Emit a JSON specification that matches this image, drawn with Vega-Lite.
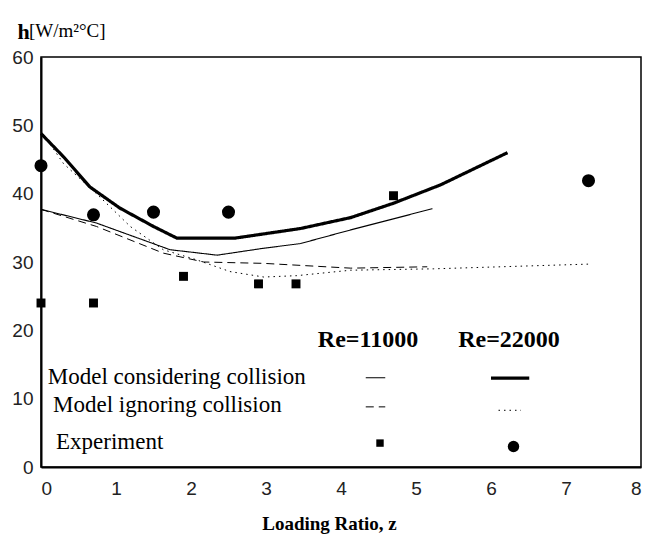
{
  "$schema": "https://vega.github.io/schema/vega-lite/v6.json",
  "width": 600,
  "height": 410,
  "autosize": "none",
  "padding": {"left": 41, "top": 57, "right": 4, "bottom": 69},
  "background": "white",
  "title": {"text": "[W/m²°C]", "anchor": "start", "frame": "group", "dx": -12, "offset": -36, "baseline": "alphabetic", "font": "Liberation Serif", "fontSize": 19, "fontWeight": "normal", "color": "black"},
  "config": {
    "view": {"stroke": "black", "strokeWidth": 1.5},
    "axis": {"grid": false, "ticks": false, "domainColor": "black", "domainWidth": 2, "labelFont": "Liberation Sans", "labelFontSize": 19, "labelColor": "#222"}
  },
  "datasets": {
    "curves": [
      {"series": "Considering collision, Re=22000", "z": 0, "h": 48.8},
      {"series": "Considering collision, Re=22000", "z": 0.30, "h": 45.4},
      {"series": "Considering collision, Re=22000", "z": 0.65, "h": 41.0},
      {"series": "Considering collision, Re=22000", "z": 1.05, "h": 37.9},
      {"series": "Considering collision, Re=22000", "z": 1.50, "h": 35.2},
      {"series": "Considering collision, Re=22000", "z": 1.81, "h": 33.5},
      {"series": "Considering collision, Re=22000", "z": 2.59, "h": 33.5},
      {"series": "Considering collision, Re=22000", "z": 3.46, "h": 34.9},
      {"series": "Considering collision, Re=22000", "z": 4.13, "h": 36.5},
      {"series": "Considering collision, Re=22000", "z": 4.70, "h": 38.6},
      {"series": "Considering collision, Re=22000", "z": 5.33, "h": 41.3},
      {"series": "Considering collision, Re=22000", "z": 6.22, "h": 46.0},
      {"series": "Considering collision, Re=11000", "z": 0, "h": 37.7},
      {"series": "Considering collision, Re=11000", "z": 0.74, "h": 35.7},
      {"series": "Considering collision, Re=11000", "z": 1.72, "h": 31.8},
      {"series": "Considering collision, Re=11000", "z": 2.35, "h": 31.0},
      {"series": "Considering collision, Re=11000", "z": 2.96, "h": 32.0},
      {"series": "Considering collision, Re=11000", "z": 3.46, "h": 32.7},
      {"series": "Considering collision, Re=11000", "z": 4.13, "h": 34.7},
      {"series": "Considering collision, Re=11000", "z": 5.22, "h": 37.8},
      {"series": "Ignoring collision, Re=11000", "z": 0, "h": 37.7},
      {"series": "Ignoring collision, Re=11000", "z": 0.74, "h": 35.2},
      {"series": "Ignoring collision, Re=11000", "z": 1.63, "h": 31.3},
      {"series": "Ignoring collision, Re=11000", "z": 2.17, "h": 30.0},
      {"series": "Ignoring collision, Re=11000", "z": 2.97, "h": 29.8},
      {"series": "Ignoring collision, Re=11000", "z": 4.13, "h": 29.1},
      {"series": "Ignoring collision, Re=11000", "z": 5.15, "h": 29.3},
      {"series": "Ignoring collision, Re=22000", "z": 0, "h": 49.2},
      {"series": "Ignoring collision, Re=22000", "z": 0.30, "h": 44.4},
      {"series": "Ignoring collision, Re=22000", "z": 0.74, "h": 40.0},
      {"series": "Ignoring collision, Re=22000", "z": 1.19, "h": 35.2},
      {"series": "Ignoring collision, Re=22000", "z": 1.63, "h": 31.8},
      {"series": "Ignoring collision, Re=22000", "z": 2.08, "h": 30.3},
      {"series": "Ignoring collision, Re=22000", "z": 2.52, "h": 28.6},
      {"series": "Ignoring collision, Re=22000", "z": 2.97, "h": 27.8},
      {"series": "Ignoring collision, Re=22000", "z": 3.41, "h": 28.0},
      {"series": "Ignoring collision, Re=22000", "z": 4.13, "h": 28.8},
      {"series": "Ignoring collision, Re=22000", "z": 5.23, "h": 29.0},
      {"series": "Ignoring collision, Re=22000", "z": 7.33, "h": 29.7}
    ],
    "exp11000": [
      {"z": 0, "h": 24}, {"z": 0.7, "h": 24}, {"z": 1.9, "h": 27.9},
      {"z": 2.9, "h": 26.8}, {"z": 3.4, "h": 26.8}, {"z": 4.7, "h": 39.7}
    ],
    "exp22000": [
      {"z": 0, "h": 44.1}, {"z": 0.7, "h": 36.9}, {"z": 1.5, "h": 37.3},
      {"z": 2.5, "h": 37.3}, {"z": 7.3, "h": 41.9}
    ],
    "keyLines": [
      {"series": "Considering collision, Re=11000", "z": 4.33, "z2": 4.59, "h": 13.07},
      {"series": "Considering collision, Re=22000", "z": 6.0, "z2": 6.51, "h": 13.0},
      {"series": "Ignoring collision, Re=11000", "z": 4.33, "z2": 4.59, "h": 8.8},
      {"series": "Ignoring collision, Re=22000", "z": 6.10, "z2": 6.40, "h": 8.3}
    ],
    "keySquare": [{"z": 4.52, "h": 3.5}],
    "keyCircle": [{"z": 6.30, "h": 3.0}],
    "keyHeaders": [
      {"label": "Re=11000", "z": 4.36, "h": 18.6},
      {"label": "Re=22000", "z": 6.24, "h": 18.6}
    ],
    "keyRows": [
      {"label": "Model considering collision", "z": 0.09, "h": 13.1},
      {"label": "Model ignoring collision", "z": 0.16, "h": 9.1},
      {"label": "Experiment", "z": 0.2, "h": 3.6}
    ]
  },
  "layer": [
    {
      "data": {"name": "curves"},
      "mark": {"type": "line", "color": "black"},
      "encoding": {
        "x": {"field": "z", "type": "quantitative", "scale": {"domain": [0, 8], "nice": false},
              "axis": {"values": [0,1,2,3,4,5,6,7,8], "format": "d", "labelPadding": 12, "title": "Loading Ratio, z", "titleFont": "Liberation Serif", "titleFontSize": 19, "titleFontWeight": "bold", "titleColor": "black", "titlePadding": 16, "titleX": 288, "titleAlign": "center"}},
        "y": {"field": "h", "type": "quantitative", "scale": {"domain": [0, 60], "nice": false},
              "axis": {"values": [0,10,20,30,40,50,60], "format": "d", "labelPadding": 8, "title": "h", "titleAngle": 0, "titleX": -24, "titleY": -19, "titleAlign": "left", "titleBaseline": "alphabetic", "titleFont": "Liberation Serif", "titleFontSize": 22, "titleFontWeight": "bold", "titleColor": "black"}},
        "detail": {"field": "series"},
        "strokeDash": {"field": "series", "type": "nominal", "legend": null,
          "scale": {"type": "ordinal", "domain": ["Considering collision, Re=11000", "Considering collision, Re=22000", "Ignoring collision, Re=11000", "Ignoring collision, Re=22000"],
                    "range": [[1, 0], [1, 0], [8, 5], [1.5, 4]]}},
        "strokeWidth": {"field": "series", "type": "nominal", "legend": null,
          "scale": {"type": "ordinal", "domain": ["Considering collision, Re=11000", "Considering collision, Re=22000", "Ignoring collision, Re=11000", "Ignoring collision, Re=22000"],
                    "range": [1.1, 3.2, 1, 1]}}
      }
    },
    {
      "data": {"name": "exp11000"},
      "mark": {"type": "point", "shape": "square", "filled": true, "color": "black", "size": 80, "opacity": 1},
      "encoding": {"x": {"field": "z", "type": "quantitative"}, "y": {"field": "h", "type": "quantitative"}}
    },
    {
      "data": {"name": "exp22000"},
      "mark": {"type": "circle", "color": "black", "size": 170, "opacity": 1},
      "encoding": {"x": {"field": "z", "type": "quantitative"}, "y": {"field": "h", "type": "quantitative"}}
    },
    {
      "data": {"name": "keyLines"},
      "mark": {"type": "rule", "color": "black"},
      "encoding": {
        "x": {"field": "z", "type": "quantitative"},
        "x2": {"field": "z2"},
        "y": {"field": "h", "type": "quantitative"},
        "strokeDash": {"field": "series", "type": "nominal", "legend": null,
          "scale": {"type": "ordinal", "domain": ["Considering collision, Re=11000", "Considering collision, Re=22000", "Ignoring collision, Re=11000", "Ignoring collision, Re=22000"],
                    "range": [[1, 0], [1, 0], [8, 5], [1.5, 4]]}},
        "strokeWidth": {"field": "series", "type": "nominal", "legend": null,
          "scale": {"type": "ordinal", "domain": ["Considering collision, Re=11000", "Considering collision, Re=22000", "Ignoring collision, Re=11000", "Ignoring collision, Re=22000"],
                    "range": [1.1, 3.2, 1, 1]}}
      }
    },
    {
      "data": {"name": "keySquare"},
      "mark": {"type": "point", "shape": "square", "filled": true, "color": "black", "size": 55, "opacity": 1},
      "encoding": {"x": {"field": "z", "type": "quantitative"}, "y": {"field": "h", "type": "quantitative"}}
    },
    {
      "data": {"name": "keyCircle"},
      "mark": {"type": "circle", "color": "black", "size": 130, "opacity": 1},
      "encoding": {"x": {"field": "z", "type": "quantitative"}, "y": {"field": "h", "type": "quantitative"}}
    },
    {
      "data": {"name": "keyHeaders"},
      "mark": {"type": "text", "font": "Liberation Serif", "fontSize": 24, "fontWeight": "bold", "color": "black", "align": "center", "baseline": "middle"},
      "encoding": {"x": {"field": "z", "type": "quantitative"}, "y": {"field": "h", "type": "quantitative"}, "text": {"field": "label"}}
    },
    {
      "data": {"name": "keyRows"},
      "mark": {"type": "text", "font": "Liberation Serif", "fontSize": 23, "color": "black", "align": "left", "baseline": "middle"},
      "encoding": {"x": {"field": "z", "type": "quantitative"}, "y": {"field": "h", "type": "quantitative"}, "text": {"field": "label"}}
    }
  ]
}
